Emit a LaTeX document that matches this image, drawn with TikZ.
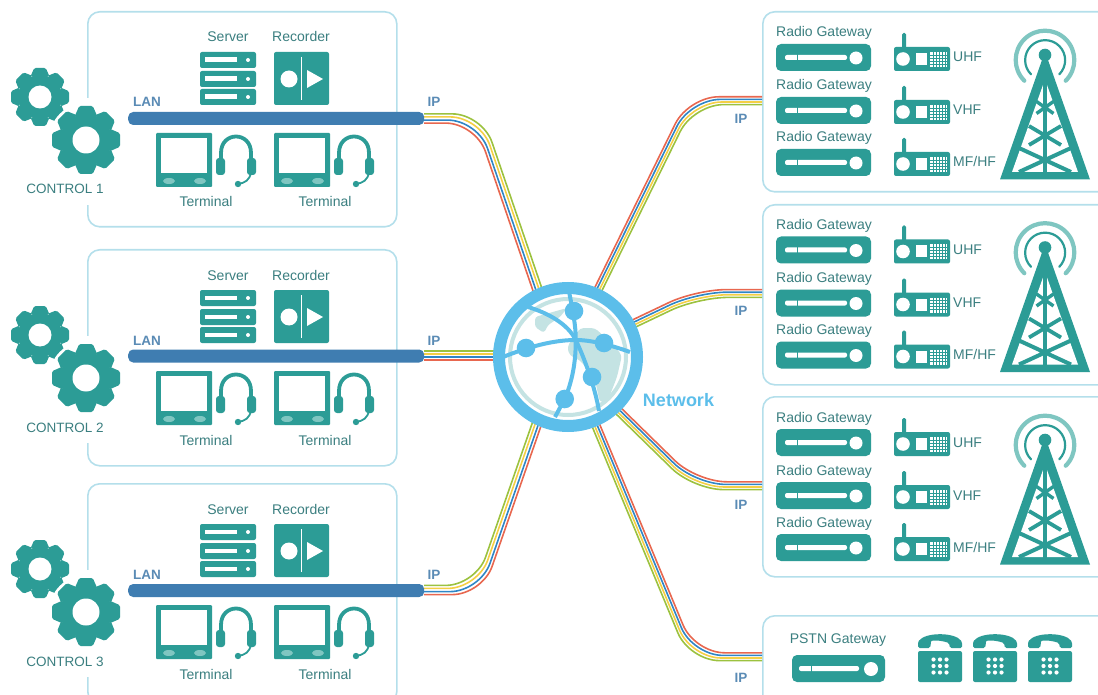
\documentclass[tikz,border=0pt]{standalone}
\usepackage{fontspec}
\setmainfont{Liberation Sans}
\usetikzlibrary{calc}
\definecolor{tealc}{HTML}{2C9C96}
\definecolor{tealtxt}{HTML}{3B7F80}
\definecolor{lanblue}{HTML}{3F7DB1}
\definecolor{iptxt}{HTML}{5A8BB5}
\definecolor{netblue}{HTML}{5CBEEA}
\definecolor{boxline}{HTML}{B4DFEB}
\definecolor{paleteal}{HTML}{C4E3E3}
\definecolor{lightteal}{HTML}{7FC6C1}
\definecolor{cgreen}{HTML}{9CC23F}
\definecolor{cyellow}{HTML}{F4CF45}
\definecolor{cblue}{HTML}{2F86C6}
\definecolor{cred}{HTML}{E8674F}
\tikzset{
  x=1pt,y=-1pt,
  framebox/.style={draw=boxline,line width=1.6pt,rounded corners=12pt,fill=white,inner sep=0pt,anchor=north west},
  lbl/.style={text=tealtxt,font=\fontsize{14}{14}\selectfont,inner sep=0pt,text height=10pt,text depth=0pt},
  iplbl/.style={text=iptxt,font=\fontsize{13.5}{13.5}\selectfont\bfseries,inner sep=0pt,text height=10pt,text depth=0pt},
  cablest/.style={line width=1.6pt,rounded corners=30pt},
  lanbar/.style={fill=lanblue,rounded corners=5pt,inner sep=0pt,minimum width=296pt,minimum height=13pt,anchor=west},
}
\newcommand\cable[4]{%
  \path (#1); \pgfgetlastxy{\cax}{\cay}%
  \path (#2); \pgfgetlastxy{\cbx}{\cby}%
  \path (#3); \pgfgetlastxy{\ccx}{\ccy}%
  \pgfmathsetmacro\cna{atan2(\cby-\cay,\cbx-\cax)}%
  \pgfmathsetmacro\cnb{atan2(\ccy-\cby,\ccx-\cbx)}%
  \pgfmathsetmacro\cnd{mod(\cnb-\cna+540,360)-180}%
  \pgfmathsetmacro\cnm{\cna+\cnd/2}%
  \pgfmathsetmacro\cnk{1/cos(\cnd/2)}%
  \foreach \off/\col in #4 {%
    \pgfmathsetmacro\crr{\off*\cnk}%
    \draw[cablest,draw=\col] ($(#1)+(\cna+90:\off pt)$) -- ($(#2)+(\cnm+90:\crr pt)$) -- ($(#3)+(\cnb+90:\off pt)$);
  }%
}
\newcommand\leftorder{4.6/cgreen,1.6/cyellow,-1.6/cblue,-4.6/cred}
\newcommand\rightorder{3.9/cred,1.3/cblue,-1.3/cyellow,-3.9/cgreen}
\newcommand\gearicon[4]{%
  \begin{scope}[shift={(#1,#2)}]
    \fill[white] (0,0) circle (#3+3);
    \fill[tealc] (0,0) circle (#3*0.76);
    \foreach \a in {0,45,...,315}{
      \fill[tealc,rotate=\a,rounded corners=1.5pt] (-#3*0.33,-#3*0.7) -- (-#3*0.2,-#3) -- (#3*0.2,-#3) -- (#3*0.33,-#3*0.7) -- cycle;
    }
    \fill[white] (0,0) circle (#4);
  \end{scope}}
\newcommand\terminalicon[2]{%
  \begin{scope}[shift={(#1,#2)}]
    \fill[tealc,rounded corners=1pt] (156,133) rectangle (212,187);
    \fill[white] (161,138) rectangle (207,173);
    \fill[lightteal] (169,181) ellipse (6 and 3);
    \fill[lightteal] (200,181) ellipse (6 and 3);
    \draw[tealc,line width=3.8pt] (221,162) -- (221,153) .. controls (221,131) and (251,131) .. (251,153) -- (251,162);
    \fill[tealc,rounded corners=3pt] (216,158) rectangle (225,175);
    \fill[tealc,rounded corners=3pt] (247,158) rectangle (256,175);
    \draw[tealc,line width=1.8pt] (251,172) .. controls (250,180) and (245,183) .. (238,184);
    \fill[tealc] (238,184) circle (3.2);
  \end{scope}}
\newcommand\controlgroup[4]{% n, y offset, box top, box height
  \node[framebox,minimum width=309pt,minimum height=#4 pt] (box#1) at (87,#3) {};
  \begin{scope}[shift={(0,#2)}]
    \fill[white] (84,98) rectangle (92,205);
    \foreach \yy in {52,71,89}{
      \fill[tealc,rounded corners=2pt] (200,\yy) rectangle (256,\yy+16);
      \fill[white] (205,\yy+5.5) rectangle (237,\yy+10);
      \fill[white] (248,\yy+8) circle (2);
    }
    \fill[tealc,rounded corners=2pt] (274,52) rectangle (329,105);
    \draw[white,line width=1.3pt] (301.5,57) -- (301.5,100);
    \fill[white] (289,79) circle (8.5);
    \fill[white] (307,70) -- (323,79) -- (307,88) -- cycle;
    \node[lbl] (srv#1) at (228,37) {Server};
    \node[lbl] (rec#1) at (301,37) {Recorder};
    \node[iplbl] (lanl#1) at (147,102) {LAN};
    \node[iplbl] (ipl#1) at (434,102) {IP};
    \terminalicon{0}{0}
    \terminalicon{118}{0}
    \node[lbl] (ta#1) at (206,202) {Terminal};
    \node[lbl] (tb#1) at (325,202) {Terminal};
    \gearicon{40}{97}{29}{11.5}
    \gearicon{86}{140}{34}{13.5}
    \node[lbl,fill=white,inner sep=1pt,font=\fontsize{13.5}{13.5}\selectfont] (ctl#1) at (65,189) {CONTROL #1};
  \end{scope}}
\newcommand\gatewayicon[2]{%
  \begin{scope}[shift={(#1,#2)}]
    \fill[tealc,rounded corners=5pt] (776,44) rectangle (871,71);
    \fill[white,rounded corners=2pt] (785,55) rectangle (847,60);
    \draw[tealc,line width=.8pt] (797,54) -- (797,61);
    \fill[white] (856,58) circle (6.5);
  \end{scope}}
\newcommand\radioicon[2]{%
  \begin{scope}[shift={(#1,#2)}]
    \fill[tealc,rounded corners=1.5pt] (902,33) rectangle (906,50);
    \fill[tealc,rounded corners=2pt] (894,47) rectangle (950,71);
    \fill[white] (903,59) circle (6.8);
    \fill[white] (916,53) rectangle (927,65);
    \fill[white] (930,52) rectangle (947,67);
    \foreach \g in {933,936,...,945}{\draw[tealc,line width=.6pt] (\g,52) -- (\g,67);}
    \foreach \g in {55,58,...,65}{\draw[tealc,line width=.6pt] (930,\g) -- (947,\g);}
  \end{scope}}
\newcommand\radiogroup[4]{% n, y offset, box top, box height
  \node[framebox,minimum width=360pt,minimum height=#4 pt] (rbox#1) at (762,#3) {};
  \begin{scope}[shift={(0,#2)}]
    \foreach \k/\dy in {a/0,b/53,c/105}{
      \node[lbl] (rg#1\k) at (824,32+\dy) {Radio Gateway};
      \gatewayicon{0}{\dy}
      \radioicon{0}{\dy}
    }
    \node[lbl,anchor=west] (ua#1) at (953,57) {UHF};
    \node[lbl,anchor=west] (ub#1) at (953,110) {VHF};
    \node[lbl,anchor=west] (uc#1) at (953,162) {MF/HF};
    \draw[lightteal,line width=4.2pt,line cap=round] (1024.3,80.7) arc[start angle=135,end angle=405,radius=29.3];
    \draw[tealc,line width=2.2pt,line cap=round] (1031,74.3) arc[start angle=135,end angle=405,radius=20];
    \fill[tealc] (1045,55) circle (6.3);
    \fill[tealc] (1000,179.5) -- (1042,60) -- (1048,60) -- (1090,179.5) -- cycle;
    \fill[white] (1012,172) -- (1043,85) -- (1047,85) -- (1078,172) -- cycle;
    \draw[tealc,line width=4pt] (1045,80) -- (1045,176);
    \draw[tealc,line width=3.4pt] (1036.5,101.5) -- (1053.5,113.5) (1053.5,101.5) -- (1036.5,113.5);
    \draw[tealc,line width=3.8pt] (1029,126) -- (1061,145) (1061,126) -- (1029,145);
    \draw[tealc,line width=4pt] (1019,148) -- (1071,172) (1071,148) -- (1019,172);
  \end{scope}}
\newcommand\phoneicon[1]{%
  \begin{scope}[shift={(#1,0)}]
    \fill[tealc,rounded corners=1.5pt] (918,648) -- (918,642) .. controls (925,632) and (955,632) .. (962,642) -- (962,648) -- (950,648) -- (949,643) .. controls (940,640) and (931,640) .. (931,643) -- (930,648) -- cycle;
    \fill[tealc,rounded corners=2pt] (918,651) rectangle (962,682);
    \foreach \kx in {933.5,940,946.5}{\foreach \ky in {659.5,666,672.5}{\fill[white] (\kx,\ky) circle (2.1);}}
  \end{scope}}
\begin{document}
\begin{tikzpicture}
\useasboundingbox (0,0) rectangle (1098,695);
\clip (0,0) rectangle (1098,695);
\controlgroup{1}{0}{11}{215}
\controlgroup{2}{238}{249}{216}
\controlgroup{3}{472}{483}{220}
\radiogroup{1}{0}{11}{180}
\radiogroup{2}{192.5}{204}{180}
\radiogroup{3}{385}{396}{180}
% PSTN
\node[framebox,minimum width=360pt,minimum height=100pt] (pbox) at (762,615) {};
\node[lbl] (pstnl) at (838,638) {PSTN Gateway};
\begin{scope}[shift={(16,611)}]
  \fill[tealc,rounded corners=5pt] (776,44) rectangle (869,71);
  \fill[white,rounded corners=2pt] (783,55) rectangle (843,60);
  \draw[tealc,line width=.8pt] (795,54) -- (795,61);
  \fill[white] (855,58) circle (7);
\end{scope}
\phoneicon{0}\phoneicon{55}\phoneicon{110}
\node[circle,inner sep=0pt,minimum size=150pt] (net) at (568,357) {};
\coordinate (la) at (424,118.5);
\coordinate (lb) at (424,355.5);
\coordinate (lc) at (424,590);
\coordinate (lac) at (479,118.5);
\coordinate (lcc) at (479,590);
\coordinate (lbc) at (460,355.5);
\coordinate (na) at (541,300);
\coordinate (nb) at (510,355.5);
\coordinate (nc) at (541,412);
\coordinate (ra) at (593,300);
\coordinate (rac) at (691,100.7);
\coordinate (rae) at (762,100.7);
\coordinate (rb) at (625,327.8);
\coordinate (rbc) at (697,293.5);
\coordinate (rbe) at (762,293.5);
\coordinate (rc) at (610,402.6);
\coordinate (rcc) at (695,485.7);
\coordinate (rce) at (762,485.7);
\coordinate (rd) at (590,411.2);
\coordinate (rdc) at (692,656.7);
\coordinate (rde) at (762,656.7);
\cable{la}{lac}{na}{\leftorder}
\cable{lb}{lbc}{nb}{\leftorder}
\cable{lc}{lcc}{nc}{\leftorder}
\cable{ra}{rac}{rae}{\rightorder}
\cable{rb}{rbc}{rbe}{\rightorder}
\cable{rc}{rcc}{rce}{\rightorder}
\cable{rd}{rdc}{rde}{\rightorder}
\node[lanbar] (lan1) at (128,118.5) {};
\node[lanbar] (lan2) at (128,356) {};
\node[lanbar] (lan3) at (128,590.5) {};
\node[iplbl] (ipa) at (741,119) {IP};
\node[iplbl] (ipb) at (741,311) {IP};
\node[iplbl] (ipc) at (741,504) {IP};
\node[iplbl] (ipd) at (741,677) {IP};
% globe
\begin{scope}[shift={(568,357)}]
  \fill[white] (0,0) circle (72);
  \draw[paleteal,line width=4pt] (0,0) circle (58);
  \fill[paleteal,rounded corners=3pt] (-33,-40) -- (-1,-49) -- (-8,-40) -- (-20,-32) -- (-24,-24) -- (-33,-30) -- cycle;
  \fill[paleteal,rounded corners=4pt] (-1,-10) -- (12,-29) -- (27,-29) -- (45,-12) -- (54,-2) -- (49,20) -- (40,43) -- (32,46) -- (27,23) -- (12,3) -- (2,-1) -- cycle;
  \draw[netblue,line width=12pt] (0,0) circle (69);
  \draw[netblue,line width=4pt] (1.3,-64) .. controls (5,-45) and (8,-30) .. (7.7,-17) .. controls (8,5) and (4,25) .. (-3.3,42) -- (-13,60);
  \draw[netblue,line width=4pt] (-65,0) .. controls (-40,-10) and (-15,-17) .. (7.7,-17) .. controls (25,-17) and (45,-11) .. (62,-5);
  \draw[netblue,line width=4pt] (-40,-50) .. controls (-20,-44) and (0,-33) .. (7.7,-17) .. controls (16,0) and (27,30) .. (31,54);
  \fill[netblue] (6,-46) circle (9.3);
  \fill[netblue] (-42,-9) circle (9.3);
  \fill[netblue] (36,-14) circle (9.3);
  \fill[netblue] (24,20) circle (9.3);
  \fill[netblue] (-3.3,42) circle (9.3);
\end{scope}
\node[text=netblue,font=\fontsize{18}{18}\selectfont\bfseries,inner sep=0pt,text height=13pt,text depth=0pt] (netl) at (678.5,400) {Network};
\end{tikzpicture}
\end{document}
